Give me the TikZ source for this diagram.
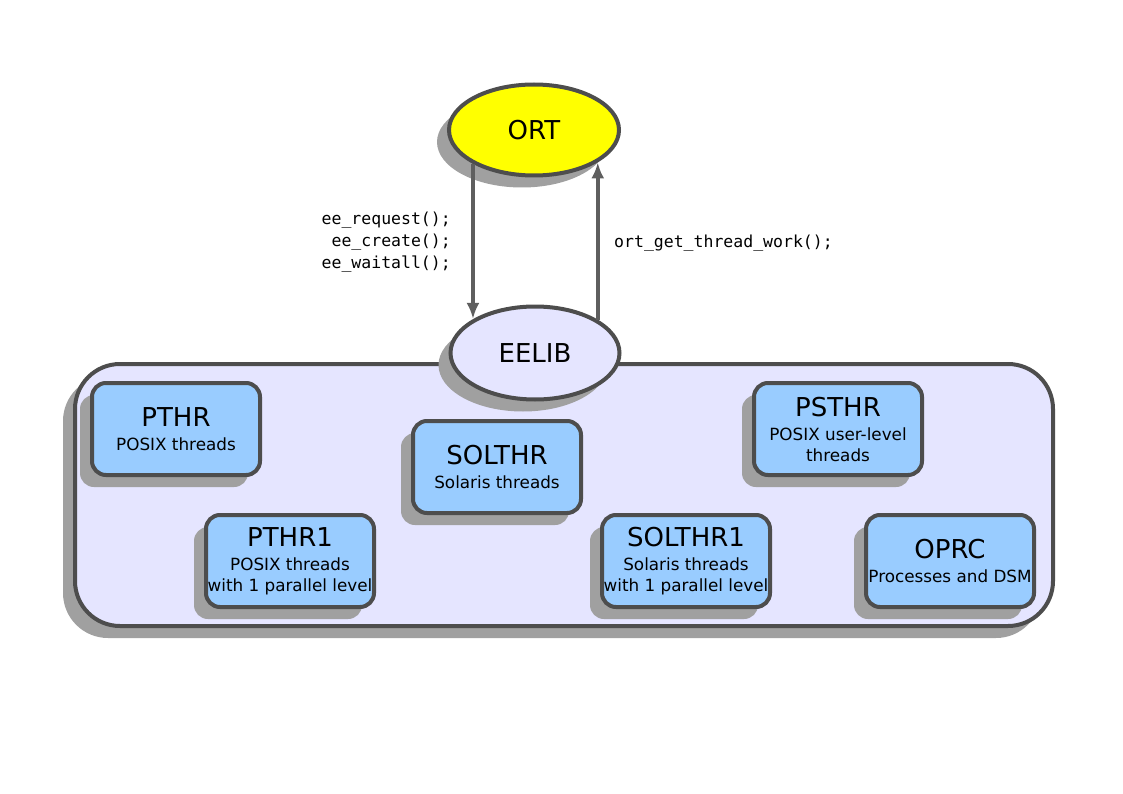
\documentclass[tikz,border=0pt]{standalone}
\usepackage{fontspec}
\setmainfont{DejaVu Sans}
\setmonofont{DejaVu Sans Mono}
\usetikzlibrary{shapes.geometric,shadows,arrows.meta}
\definecolor{edgegray}{RGB}{77,77,77}
\definecolor{shadegray}{RGB}{160,160,160}
\definecolor{lavender}{RGB}{229,229,255}
\definecolor{skyblue}{RGB}{153,204,255}
\definecolor{ortyellow}{RGB}{255,255,0}
\newcommand{\titlefont}{\fontsize{26}{28}\selectfont}

\begin{document}
\begin{tikzpicture}[x=1pt, y=-1pt,
  shade/.style={drop shadow={shadow xshift=-12pt, shadow yshift=-12pt, fill=shadegray, opacity=1}},
  oval/.style={ellipse, draw=edgegray, line width=4pt, inner sep=0pt, shade, font=\titlefont},
  group/.style={draw=edgegray, fill=lavender, line width=4pt, rounded corners=45pt, shade},
  blk/.style={draw=edgegray, fill=skyblue, line width=4pt, rounded corners=14pt, shade,
    minimum width=168pt, minimum height=92pt, inner sep=0pt, align=center,
    font=\fontsize{16.8}{21}\selectfont},
  call/.style={font=\ttfamily\fontsize{16.5}{22}\selectfont, inner sep=0pt},
  flow/.style={draw=edgegray!90, line width=4pt, -{Latex[length=16pt,width=13pt]}}]
\useasboundingbox (0,0) rectangle (1123,794);
\node[group, minimum width=978pt, minimum height=262pt] (eegroup) at (564,495) {};
\node[oval, fill=lavender, minimum width=169pt, minimum height=93pt] (eelib) at (535,353) {EELIB};
\node[oval, fill=ortyellow, minimum width=170pt, minimum height=91pt] (ort) at (534,130) {ORT};
\draw[flow] (ort.209) -- (ort.209 |- eelib.151);
\draw[flow] (eelib.28) -- (eelib.28 |- ort.333);
\node[call, anchor=east, align=right] (down) at (451,242) {ee\_request();\\ee\_create();\\ee\_waitall();};
\node[call, anchor=west] (up) at (614,243) {ort\_get\_thread\_work();};
\newcommand{\blkat}[4]{\node[blk] (#1) at (#2) {{\titlefont #3}\\[3pt]#4};}
\blkat{pthr}{176,429}{PTHR}{POSIX threads}
\blkat{solthr}{497,467}{SOLTHR}{Solaris threads}
\blkat{psthr}{838,429}{PSTHR}{POSIX user-level\\threads}
\blkat{pthrone}{290,561}{PTHR1}{POSIX threads\\with 1 parallel level}
\blkat{solthrone}{686,561}{SOLTHR1}{Solaris threads\\with 1 parallel level}
\blkat{oprc}{950,561}{OPRC}{Processes and DSM}
\end{tikzpicture}
\end{document}
